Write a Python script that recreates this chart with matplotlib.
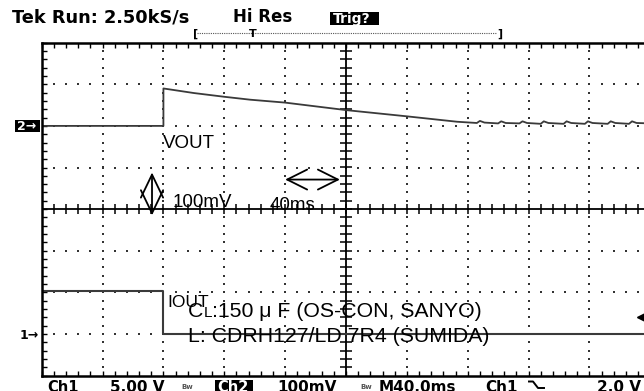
import numpy as np
import matplotlib
matplotlib.use("Agg")
import matplotlib.pyplot as plt
from matplotlib.lines import Line2D
from matplotlib.patches import Rectangle

W, H = 644, 391

# scope settings
MS_PER_DIV = 40.0
CH2_MV_PER_DIV = 100.0
CH1_V_PER_DIV = 5.0
CH2_POS = 6.0      # ch2 ground marker, divisions from bottom
CH1_POS = 1.0      # ch1 ground marker
TRIG_LEVEL_V = 2.0

# VOUT (ch2), mV relative to level before the load step
vout_t = [0, 80, 80, 100, 120, 137, 160, 200, 240, 273,
          286, 288, 291, 300, 302, 305, 314, 316, 319, 328, 330, 333,
          343, 345, 348, 357, 359, 362, 372, 374, 377, 386, 388, 391, 400]
vout_mv = [0, 0, 90, 79, 70, 63, 56, 38, 23, 10,
           7, 12, 8, 6, 11, 7, 6, 11, 7, 5, 11, 7,
           5, 11, 7, 5, 11, 7, 5, 11, 7, 5, 11, 7, 6]

# IOUT (ch1), volts from the current probe
iout_t = [0, 80, 80, 400]
iout_v = [5.15, 5.15, 0.0, 0.0]

fig = plt.figure(figsize=(W / 100, H / 100), dpi=100)
fig.patch.set_facecolor("white")

left, top, dx, dy = 41.7, 42.7, 60.86, 41.6
ax = fig.add_axes([left / W, (H - (top + 8 * dy)) / H, 10 * dx / W, 8 * dy / H])
ax.set_xlim(0, 10 * MS_PER_DIV)
ax.set_ylim(0, 8)

# graticule: dotted division lines
dots_x, dots_y = [], []
for i in range(1, 10):
    if i == 5:
        continue
    ys = np.arange(0.2, 8.0, 0.2)
    dots_x += [i * MS_PER_DIV] * len(ys)
    dots_y += list(ys)
for j in range(1, 8):
    if j == 4:
        continue
    xs = np.arange(0.2, 10.0, 0.2) * MS_PER_DIV
    dots_x += list(xs)
    dots_y += [j] * len(xs)
ax.plot(dots_x, dots_y, ls="none", marker="s", ms=1.5, mew=0, color="#333333")

# center cross with minor ticks
ax.axvline(5 * MS_PER_DIV, color="black", lw=1.3)
ax.axhline(4, color="black", lw=1.3)
cy = np.arange(0.2, 8.0, 0.2)
ax.plot([5 * MS_PER_DIV] * len(cy), cy, ls="none", marker="_", ms=8, mew=1.1, color="black")
cx = np.arange(0.2, 10.0, 0.2) * MS_PER_DIV
ax.plot(cx, [4] * len(cx), ls="none", marker="|", ms=7, mew=1.1, color="black")

ax.set_xticks(np.arange(0, 10.01, 0.2) * MS_PER_DIV)
ax.set_yticks(np.arange(0, 8.01, 0.2))
ax.tick_params(direction="in", length=3.6, width=1.0, top=True, right=True,
               labelbottom=False, labelleft=False, color="black")
for s in ax.spines.values():
    s.set_linewidth(1.8)

# traces
ax.plot(vout_t, CH2_POS + np.array(vout_mv) / CH2_MV_PER_DIV, color="#3a3a3a", lw=1.3)
ax.plot(iout_t, CH1_POS + np.array(iout_v) / CH1_V_PER_DIV, color="#3a3a3a", lw=1.5)

# trigger level marker
ax.plot([394.9], [CH1_POS + TRIG_LEVEL_V / CH1_V_PER_DIV], marker="<", ms=8,
        color="black", clip_on=False)

# scale arrows
ax.annotate("", xy=(72.5, 4.88), xytext=(72.5, 3.85),
            arrowprops=dict(arrowstyle="<->,head_length=0.83,head_width=0.4",
                            lw=1.3, color="black", shrinkA=0, shrinkB=0, mutation_scale=20))
ax.annotate("", xy=(196, 4.71), xytext=(160, 4.71),
            arrowprops=dict(arrowstyle="<->,head_length=0.72,head_width=0.36",
                            lw=1.3, color="black", shrinkA=0, shrinkB=0, mutation_scale=20))

arial = ["Liberation Sans"]
ax.text(79.7, 5.46, "VOUT", family=arial, fontsize=13.5, va="baseline")
ax.text(86.3, 4.05, "100mV", family=arial, fontsize=13.5, va="baseline")
ax.text(150, 3.97, "40ms", family=arial, fontsize=13.5, va="baseline")
ax.text(82.4, 1.64, "IOUT", family=arial, fontsize=12.5, va="baseline")

# capacitor / inductor note, "C" with small "L"
fig.canvas.draw()
renderer = fig.canvas.get_renderer()
t1 = ax.text(96.2, 1.40, "C", family=arial, fontsize=15.3, va="baseline")
bb = t1.get_window_extent(renderer)
x_l = ax.transData.inverted().transform((bb.x1, 0))[0]
t2 = ax.text(x_l, 1.40, "L", family=arial, fontsize=11, va="baseline")
bb = t2.get_window_extent(renderer)
x_r = ax.transData.inverted().transform((bb.x1, 0))[0]
ax.text(x_r, 1.40, ":150 \u03bc F (OS-CON, SANYO)", family=arial, fontsize=15.3, va="baseline")
ax.text(96.2, 0.80, "L: CDRH127/LD 7R4 (SUMIDA)", family=arial, fontsize=15.3, va="baseline")


def ftext(x, y, s, **kw):
    return fig.text(x / W, 1 - y / H, s, **kw)


def fline(pts, **kw):
    xs = [p[0] / W for p in pts]
    ys = [1 - p[1] / H for p in pts]
    fig.add_artist(Line2D(xs, ys, transform=fig.transFigure, **kw))


def fbox(x0, y0, x1, y1):
    fig.add_artist(Rectangle((x0 / W, 1 - y1 / H), (x1 - x0) / W, (y1 - y0) / H,
                             transform=fig.transFigure, color="black", lw=0))


bold = dict(family="DejaVu Sans", weight="bold", va="baseline")

# header
ftext(12, 22, "Tek Run: 2.50kS/s", fontsize=12.8, **bold)
ftext(233, 22, "Hi Res", fontsize=12, **bold)
fbox(330, 12, 379, 25)
ftext(333, 23, "Trig?", fontsize=10, color="white", **bold)

# record bracket
ftext(193, 37, "[", fontsize=8, **bold)
fline([(197, 32.5), (497, 32.5)], lw=0.8, ls=(0, (1, 1)), color="#555555")
ftext(249, 37, "T", fontsize=8, **bold)
ftext(497, 37, "]", fontsize=8, **bold)

# channel markers
fbox(15, 120, 40, 132)
ftext(17, 130.5, "2\u2192", fontsize=9, color="white", **bold)
ftext(20, 339, "1\u2192", fontsize=9, **bold)

# footer
ftext(47, 392, "Ch1", fontsize=10.5, **bold)
ftext(110, 392, "5.00 V", fontsize=11, **bold)
ftext(181, 389, "Bw", fontsize=5, color="#555555", **bold)
fbox(215, 379.5, 253, 392)
ftext(217, 392, "Ch2", fontsize=10.5, color="white", **bold)
ftext(277, 392, "100mV", fontsize=11, **bold)
ftext(360, 389, "Bw", fontsize=5, color="#555555", **bold)
ftext(379, 392, "M40.0ms", fontsize=11, **bold)
ftext(485, 392, "Ch1", fontsize=11, **bold)
fline([(529, 381.5), (533, 381.5), (538, 388), (544, 388)], lw=1.4, color="black")
ftext(597, 392, "2.0 V", fontsize=11, **bold)

fig.savefig("out.png", dpi=100)
